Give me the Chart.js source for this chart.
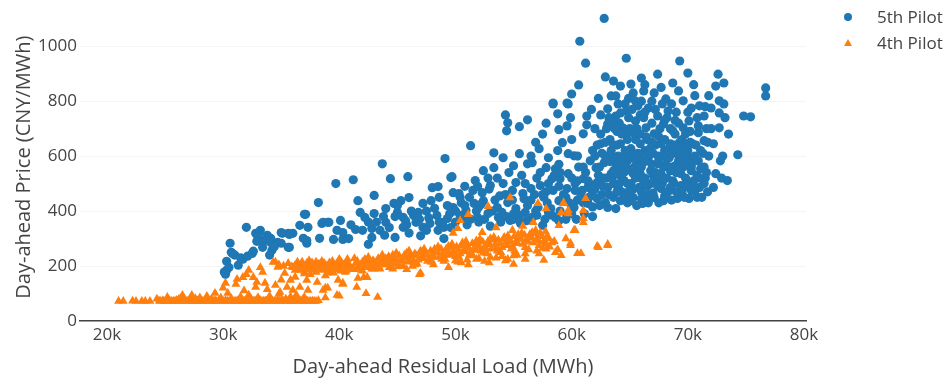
<!DOCTYPE html>
<html>
<head>
<meta charset="utf-8">
<script src="https://cdn.jsdelivr.net/npm/chart.js@4.4.1/dist/chart.umd.min.js"></script>
<style>
  html, body { margin: 0; padding: 0; background: #fff; }
  #wrap { position: relative; width: 947px; height: 382px; }
  .legend-item { position: absolute; left: 843px; height: 20px; line-height: 20px;
    font-family: "Open Sans", sans-serif; font-size: 17px; color: #444; white-space: nowrap; }
  .legend-item span.txt { position: absolute; left: 34px; top: 0; }
  .dot { position: absolute; left: 1px; top: 6px; width: 8px; height: 8px; border-radius: 50%; background: #1f77b4; }
  .tri { position: absolute; left: 1px; top: 6px; width: 0; height: 0;
    border-left: 4px solid transparent; border-right: 4px solid transparent; border-bottom: 7px solid #ff7f0e; }
</style>
</head>
<body>
<div id="wrap">
  <canvas id="chart" width="947" height="382"></canvas>
  <div class="legend-item" style="top:7px"><div class="dot"></div><span class="txt">5th Pilot</span></div>
  <div class="legend-item" style="top:33px"><div class="tri"></div><span class="txt">4th Pilot</span></div>
</div>
<script>
// tick values (x in thousand MWh)
const xTicks = [20, 30, 40, 50, 60, 70, 80];
const yTicks = [0, 200, 400, 600, 800, 1000];

// 5th Pilot: [residual load (k MWh), price]
const pilot5Points = [
  [30.1,178],[30.3,185],[30.6,283],[30.7,250],[30.3,217],[30.2,170],[30.5,195],[31.3,203],[31.7,225],[32.1,236],
  [32.0,341],[32.6,254],[32.8,319],[33.2,330],[33.4,293],[33.8,312],[33.4,268],[34.2,257],[34.1,286],[34.7,286],
  [35.1,319],[35.6,319],[36.0,319],[35.7,268],[36.6,348],[37.1,388],[37.3,341],[36.9,301],[37.2,283],[38.2,431],
  [38.5,355],[39.0,359],[38.3,301],[30.8,246],[31.0,240],[32.5,246],[33.6,293],[34.1,301],[35.0,322],[35.7,315],
  [35.6,268],[33.1,322],[35.0,283],[37.2,293],[39.5,297],[40.3,297],[40.3,322],[41.4,333],[33.9,300],[34.4,270],
  [33.0,305],[32.9,290],[34.0,240],[31.5,230],
  [43.7,572],[39.7,500],[41.2,514],[44.4,518],[45.9,525],[41.6,438],[43.0,457],[37.0,388],[38.6,359],[39.1,359],
  [40.1,366],[42.2,377],[43.0,391],[44.0,409],[44.7,428],[45.3,438],[46.0,449],[47.2,428],[47.9,438],[48.0,485],
  [48.5,489],[46.4,384],[45.5,377],[48.4,384],[48.9,359],[47.2,341],[46.6,359],[44.0,359],[43.5,330],[42.8,337],
  [42.8,304],[42.5,279],[43.9,312],[44.8,304],[45.5,341],[49.1,591],[49.7,525],[46.2,400],[45.0,395],[47.5,400],
  [48.2,410],[49.3,420],[46.9,370],[45.8,350],[47.8,355],[44.3,340],[41.0,350],[42.0,330],[39.8,330],[40.8,300],
  [46.0,320],[47.0,310],[48.5,330],[49.0,300],[49.6,340],[42.5,360],[43.8,380],[41.8,395],[45.0,420],
  [44.8,380],[46.8,395],[47.7,375],[48.6,360],[43.2,360],[45.7,365],[47.5,330],
  [54.3,750],[54.5,721],[54.4,692],[55.5,707],[56.2,732],[58.8,754],[59.6,710],[58.9,696],[58.4,790],[59.7,790],
  [60.7,1018],[61.2,938],[60.6,859],[60.0,826],[59.6,793],[58.4,793],[61.3,746],[61.3,714],[61.0,681],[51.3,638],
  [49.6,522],[53.3,612],[54.1,594],[55.5,609],[57.2,627],[58.0,594],[58.8,620],[59.7,609],[60.2,601],[59.2,649],
  [52.4,547],[53.3,558],[54.6,540],[54.1,500],[55.2,504],[56.2,572],[56.6,576],[57.3,540],[57.8,558],[58.3,518],
  [58.6,554],[59.0,518],[59.7,536],[60.3,500],[61.0,518],[61.6,583],[62.1,558],[62.8,576],[62.5,645],[51.7,511],
  [51.5,475],[52.3,467],[50.3,464],[49.8,467],[53.0,493],[54.9,475],[55.8,464],[56.5,482],[57.3,493],[58.4,475],
  [59.6,482],[60.9,475],[61.4,486],[62.2,504],[49.8,413],[50.9,402],[51.6,428],[52.4,438],[53.6,413],[54.5,431],
  [55.2,409],[56.2,420],[57.1,413],[58.2,409],[58.9,438],[60.2,413],[61.4,428],[62.2,446],[49.3,373],[50.4,384],
  [51.9,377],[52.8,391],[53.7,377],[54.7,366],[55.6,355],[56.6,377],[57.5,348],[58.6,377],[49.0,341],[50.0,360],
  [51.0,350],[52.0,360],[53.0,345],[54.0,395],[55.0,390],[56.0,395],[57.0,385],[58.0,395],[59.0,400],[60.0,390],
  [59.5,370],[60.5,440],[61.8,415],[50.5,430],[51.2,450],[53.8,455],[55.9,445],[57.6,450],[59.3,460],[60.8,455],
  [52.8,520],[55.7,530],[58.9,570],[60.6,560],[61.2,540],[56.9,650],[57.5,680],[60.0,660],[61.8,620],[62.0,700],
  [59.9,740],[57.8,720],[56.5,600],[55.0,565],[53.6,520],[50.8,490],[52.0,415],[48.6,450],
  [49.5,390],[50.0,400],[50.6,375],[51.3,370],[51.8,400],[52.5,370],[53.2,400],[53.9,360],[54.4,380],[55.0,370],
  [55.5,385],[56.1,365],[56.9,400],[57.7,370],[58.3,385],[58.9,365],[59.6,385],[60.4,370],[61.1,390],[61.8,380],
  [50.8,420],[52.2,425],[53.4,440],[54.9,440],[56.5,440],[57.9,430],[59.8,430],[61.0,430],[60.3,475],[58.9,490],
  [57.8,470],[56.8,460],[54.3,460],[52.9,480],[51.9,490],[50.4,450],
  [56.0,500],[57.0,520],[58.0,500],[59.0,540],[60.0,520],[61.5,500],[57.5,460],[59.5,450],[60.5,510],[58.5,530],
  [62.8,1101],[64.7,956],[69.3,946],[70.0,902],[62.9,888],[66.0,884],[67.4,898],[68.7,866],[72.6,898],[73.1,866],
  [72.4,855],[76.7,848],[76.7,819],[74.8,746],[75.4,743],[74.3,605],[73.4,511],[72.7,801],[72.0,775],[72.7,757],
  [72.7,703],[72.2,645],[72.8,583],[72.4,536],[72.2,486],[63.6,873],[64.2,855],[65.1,862],[63.4,819],[65.3,830],
  [66.2,837],[67.1,830],[68.1,808],[69.2,837],[69.6,801],[70.3,775],[71.0,783],[71.4,746],[68.3,764],[67.4,746],
  [66.6,775],[65.7,783],[64.7,764],[63.8,746],[63.1,717],[64.4,703],[65.3,685],[66.4,703],[67.1,681],[67.9,717],
  [68.7,692],[69.6,703],[70.1,728],[70.9,685],[71.4,656],[70.4,645],[69.4,630],[68.5,645],[67.7,645],[66.8,630],
  [65.9,645],[65.1,627],[64.2,645],[63.4,620],[62.9,583],[63.8,572],[64.8,583],[65.7,572],[66.6,594],[67.4,572],
  [68.4,594],[69.2,583],[70.1,594],[70.9,583],[71.1,554],[70.3,547],[69.4,536],[68.5,547],[67.7,536],[66.8,547],
  [65.9,536],[65.1,547],[64.2,529],[63.4,536],[63.1,486],[64.0,486],[64.8,500],[65.8,486],[66.8,500],[67.7,482],
  [68.5,486],[69.4,493],[70.3,475],[71.0,486],[70.1,446],[67.9,438],[66.1,428],[63.8,409],[62.9,431],[65.1,438],
  [67.1,449],[69.1,446],[63.5,721],[63.1,772],[64.2,757],[64.7,681],[65.5,728],[65.3,692],[63.6,547],[64.5,511],
  [65.3,536],[64.2,438],[65.3,449],[63.1,413],[63.8,819],[64.6,790],[61.7,770],[62.3,810],
  [64.0,600],[65.0,610],[66.0,560],[67.0,610],[68.0,620],[69.0,610],[70.0,620],[66.5,660],[67.5,670],[68.5,700],
  [69.8,680],[65.5,660],[64.6,620],[66.3,520],[67.3,510],[68.2,520],[69.0,470],[66.0,470],[65.0,460],[64.3,470],
  [67.0,465],[68.0,455],[70.5,510],[71.5,520],[71.8,600],[71.6,700],[70.8,740],[69.0,760],[67.8,790],[66.9,800],
  [65.9,750],[64.0,790],[63.3,660],[62.6,610],[62.3,530],[61.8,470],[62.6,460],[63.9,690],[68.9,730],[70.6,820],
  [71.8,820],[66.3,860],[67.7,850],[64.9,810],[62.5,750],[70.5,860],[72.0,700],[71.3,610],[71.7,470],[70.8,450],
  [69.7,450],[68.6,440],[66.6,430],[65.6,420],[64.8,430],[63.2,460],[69.8,520],[70.0,570],[68.9,565],[67.9,560],
  [66.3,580],[65.4,590],[64.3,560],[63.0,520],[62.0,480],[61.5,450],
  [73.2,740],[73.5,680],[73.0,600],[72.9,520],[73.1,790],
  [62.4,560],[62.7,520],[63.0,600],[63.3,580],[63.6,500],[63.9,640],[64.2,580],[64.5,540],[64.8,660],[65.1,500],
  [65.4,560],[65.7,610],[66.0,520],[66.3,620],[66.6,460],[66.9,570],[67.2,540],[67.5,600],[67.8,500],[68.1,570],
  [68.4,630],[68.7,510],[69.0,540],[69.3,600],[69.6,560],[69.9,500],[70.2,650],[70.5,580],[70.8,530],[71.1,620],
  [71.4,560],[71.7,650],[62.5,680],[63.2,740],[63.7,700],[64.1,720],[64.9,740],[65.6,700],[66.2,740],[66.9,720],
  [67.6,700],[68.2,740],[68.9,680],[69.5,660],[70.2,690],[70.9,710],[71.5,780],[66.0,800],[67.2,770],[68.6,790],
  [65.2,770],[66.4,670],[67.2,640],[68.0,660],[69.3,650],[64.5,600],[63.5,600],[62.2,640],[65.9,600],[66.7,610],
  [67.5,590],[68.7,610],[69.8,610],[70.6,600],[64.1,500],[65.3,480],[66.5,490],[67.4,490],[68.8,500],[69.9,490],
  [63.6,450],[64.6,450],[66.0,445],[67.5,430],[68.3,470],[69.5,470],[70.4,490],[71.4,500],
  [63.5,520],[64.0,550],[64.7,560],[65.5,520],[66.2,500],[67.0,530],[67.8,520],[68.6,560],[69.5,590],[70.3,560],
  [71.0,520],[71.6,540],[70.7,640],[69.8,640],[68.9,640],[67.9,600],[66.9,650],[65.9,680],[65.0,700],[64.3,680],
  [63.6,640],[62.9,650],[66.3,760],[68.0,730],[69.2,720],[70.0,760],[65.5,800],[63.0,700],[62.0,600],[62.7,490],
  [61.4,510],[61.0,560],[60.5,600],[69.2,560],[66.5,450],[71.2,450],[70.6,470],[64.9,470],[63.9,470],[62.4,420]
];

// 4th Pilot: [residual load (k MWh), price]
const pilot4Points = [
  [21.0,72],[21.4,72],[22.2,73],[23.3,72],[23.7,72],[24.5,73],[24.8,75],[25.1,72],[25.4,74],[25.7,72],
  [26.0,76],[26.3,72],[26.6,74],[26.9,73],[27.2,76],[27.5,72],[27.8,74],[28.1,72],[28.4,75],[28.7,73],
  [29.0,72],[29.3,76],[29.6,73],[29.9,72],[30.2,75],[30.5,72],[30.8,74],[31.1,73],[31.4,72],[31.7,75],
  [32.0,72],[32.3,74],[32.6,73],[32.9,72],[33.2,75],[33.5,73],[33.8,72],[34.1,74],[34.4,72],[34.7,75],
  [35.0,73],[35.3,72],[35.6,74],[35.9,72],[36.2,75],[36.5,73],[36.8,72],[37.1,74],[37.4,72],[37.7,73],
  [38.0,72],[38.2,75],
  [24.6,72],[24.9,72],[25.25,73],[25.55,72],[25.85,73],[26.15,72],[26.45,73],[26.75,72],[27.05,72],[27.35,73],
  [27.65,72],[27.95,73],[28.25,72],[28.55,72],[28.85,74],[29.15,72],[29.45,72],[29.75,74],[30.05,72],[30.35,73],
  [30.65,72],[30.95,72],[31.25,74],[31.55,72],[31.85,73],[32.15,72],[32.45,72],[32.75,74],[33.05,72],[33.35,72],
  [33.65,74],[33.95,72],[34.25,73],[34.55,72],[34.85,72],[35.15,74],[35.45,72],[35.75,73],[36.05,72],[36.35,72],
  [36.65,74],[36.95,72],[37.25,73],[37.55,72],[37.85,72],[23.0,72],[22.5,72],
  [26.2,80],[27.6,82],[29.0,80],[30.7,82],[32.4,80],[33.9,82],[35.4,80],[36.9,82],
  [24.3,80],[25.2,87],[26.5,94],[27.3,94],[28.0,85],[28.6,90],[29.3,101],[29.8,85],[30.4,101],[31.5,88],
  [32.2,95],[33.0,86],[34.0,90],[34.8,98],[35.8,88],[36.3,95],[37.0,86],[39.8,94],[38.8,85],
  [30.2,138],[31.1,134],[31.2,152],[31.7,159],[32.0,170],[32.2,185],[32.6,159],[32.9,141],[32.8,123],[33.6,138],
  [33.4,178],[34.3,214],[34.7,196],[35.3,174],[35.8,149],[35.5,123],[36.0,112],[36.6,123],[37.2,149],[37.3,112],
  [38.1,141],[38.6,112],[39.9,149],[36.6,185],[37.7,203],[38.2,203],[30.0,120],[31.8,110],[33.8,115],[34.5,130],
  [35.0,150],[36.2,160],[37.5,170],[38.8,165],[39.5,175],[40.3,134],[41.5,123],[40.0,91],[41.6,156],[42.1,159],
  [42.3,100],[43.3,87],[39.0,120],[34.9,105],[33.2,195],[35.9,198],[38.8,120],[40.3,138],[42.4,159],[46.9,170],
  [36.0,195],[36.3,205],[36.6,190],[36.9,200],[37.2,210],[37.5,195],[37.8,205],[38.1,190],[38.4,200],[38.7,210],
  [39.0,195],[39.3,205],[39.6,188],[39.9,200],[40.2,212],[40.5,196],[40.8,205],[41.1,190],[41.4,210],[41.7,200],
  [42.0,215],[42.3,195],[42.6,208],[42.9,220],[43.2,200],[43.5,215],[43.8,225],[44.1,205],[44.4,218],[44.7,230],
  [45.0,210],[45.3,225],[45.6,240],[45.9,215],[46.2,230],[46.5,245],[46.8,222],[47.1,235],[47.4,250],[47.7,228],
  [48.0,240],[48.3,255],[48.6,232],[48.9,248],[49.2,262],[49.5,240],[49.8,255],[50.1,270],[50.4,245],[50.7,260],
  [51.0,275],[51.3,250],[51.6,265],[51.9,280],[52.2,255],[52.5,270],[52.8,290],[53.1,262],[53.4,278],[53.7,295],
  [54.0,268],[54.3,285],[54.6,300],[54.9,272],[55.2,290],[55.5,305],[55.8,280],[56.1,295],[56.4,315],[56.7,285],
  [57.0,300],[57.3,320],[57.6,290],[57.9,310],
  [36.15,200],[36.45,192],[36.75,208],[37.05,198],[37.35,188],[37.65,212],[37.95,198],[38.25,208],[38.55,192],[38.85,202],
  [39.15,212],[39.45,196],[39.75,208],[40.05,190],[40.35,204],[40.65,215],[40.95,198],[41.25,188],[41.55,218],[41.85,205],
  [42.15,195],[42.45,220],[42.75,200],[43.05,212],[43.35,228],[43.65,205],[43.95,215],[44.25,235],[44.55,210],[44.85,222],
  [45.15,238],[45.45,218],[45.75,230],[46.05,242],[46.35,222],[46.65,238],[46.95,250],[47.25,228],[47.55,242],[47.85,255],
  [48.15,232],[48.45,248],[48.75,262],[49.05,240],[49.35,252],[49.65,268],[49.95,245],[50.25,258],[50.55,275],[50.85,252],
  [51.15,265],[51.45,282],[51.75,258],[52.05,270],[52.35,288],[52.65,262],[52.95,278],[53.25,295],[53.55,268],[53.85,282],
  [54.15,300],[54.45,275],[54.75,290],[55.05,308],[55.35,282],[55.65,298],[55.95,312],[56.25,288],[56.55,302],[56.85,318],
  [57.15,292],[57.45,308],[57.75,325],
  [36.2,185],[36.8,215],[37.4,220],[38.0,215],[38.6,185],[39.4,218],[40.1,182],[40.7,225],[41.6,192],[42.2,225],
  [42.8,190],[43.4,198],[44.0,228],[44.6,240],[45.2,200],[45.8,248],[46.4,212],[47.0,255],[47.6,218],[48.2,262],
  [48.8,225],[49.4,272],[50.0,235],[50.6,285],[51.2,240],[51.8,292],[52.4,248],[53.0,300],[53.6,255],[54.2,305],
  [54.8,262],[55.4,315],[56.0,268],[56.6,322],[57.2,275],[57.8,282],[58.3,285],
  [36.4,215],[37.0,180],[37.9,185],[38.5,218],[39.2,180],[40.0,225],[40.6,182],[41.3,228],[41.9,185],[42.5,232],
  [43.0,190],[43.7,240],[44.3,195],[44.9,248],[45.5,200],[46.0,255],[46.7,208],[47.3,262],[47.9,215],[48.5,270],
  [49.1,225],[49.7,280],[50.3,232],[50.9,290],[51.5,238],[52.1,298],[52.7,245],[53.3,305],[53.9,250],[54.5,310],
  [55.1,255],[55.7,320],[56.3,260],[56.9,330],[57.5,265],[58.1,270],[35.6,210],[35.2,200],[34.8,205],[34.5,215],
  [44.6,190],[46.3,200],[48.1,205],[50.2,215],[51.8,225],[53.5,230],[55.3,240],[57.2,245],[58.6,250],[56.0,225],
  [54.3,220],[52.9,212],[47.0,174],[49.4,195],[51.1,205],[45.8,188],
  [48.0,215],[49.0,218],[50.0,220],[51.0,222],[52.0,228],[53.0,232],[54.0,235],[55.0,238],[56.0,245],[46.5,205],
  [45.0,198],[43.5,190],[42.0,182],[40.5,178],[39.0,175],[38.0,178],[37.0,172],[50.5,212],[52.5,218],[54.5,225],
  [57.0,255],[57.8,262],
  [59.9,283],[62.2,272],[63.1,279],[60.8,246],[59.1,239],[57.6,221],[55.0,207],[62.3,268],[63.1,275],[59.9,275],
  [60.5,246],[58.8,260],[58.5,290],[59.5,300],[60.2,330],[58.0,300],
  [52.8,417],[51.1,388],[50.4,366],[50.2,337],[54.7,449],[57.1,428],[57.8,409],[59.3,428],[59.7,391],[61.0,402],
  [61.0,359],[60.3,330],[58.9,348],[56.7,359],[54.9,330],[52.3,322],[61.2,446],[59.1,395],[59.3,431],[59.7,402],
  [61.0,373],[53.5,340],[55.8,345],[49.8,320]
];

const toXY = pts => pts.map(p => ({ x: p[0], y: p[1] }));

const tickFont = { family: 'Open Sans', size: 17 };
const titleFont = { family: 'Open Sans', size: 20 };

const ctx = document.getElementById('chart').getContext('2d');
const chart = new Chart(ctx, {
  type: 'scatter',
  data: {
    datasets: [{
      label: '5th Pilot',
      data: toXY(pilot5Points),
      backgroundColor: '#1f77b4',
      borderWidth: 0,
      pointRadius: 4.6,
      pointStyle: 'circle',
      order: 1
    }, {
      label: '4th Pilot',
      data: toXY(pilot4Points),
      backgroundColor: '#ff7f0e',
      borderWidth: 0,
      pointRadius: 5.2,
      pointStyle: 'triangle',
      order: 0
    }]
  },
  options: {
    responsive: false,
    animation: false,
    layout: { padding: { top: 12, right: 141, left: 0, bottom: 0 } },
    plugins: {
      legend: { display: false },
      tooltip: { enabled: false }
    },
    scales: {
      x: {
        type: 'linear',
        min: 17.68,
        max: 80.17,
        afterBuildTicks: s => { s.ticks = xTicks.map(v => ({ value: v })); },
        afterFit: s => { s.height = 61; },
        ticks: {
          callback: v => v + 'k',
          font: tickFont,
          color: '#444',
          padding: 4,
          maxRotation: 0
        },
        grid: { display: false, drawTicks: false },
        border: { display: true, color: '#444', width: 1.5 },
        title: {
          display: true,
          text: 'Day-ahead Residual Load (MWh)',
          font: titleFont,
          color: '#444',
          padding: { top: 0, bottom: 3 }
        }
      },
      y: {
        min: 0,
        max: 1120,
        afterBuildTicks: s => { s.ticks = yTicks.map(v => ({ value: v })); },
        afterFit: s => { s.width = 80; },
        ticks: {
          callback: v => String(v),
          font: tickFont,
          color: '#444',
          padding: 3
        },
        grid: { color: '#f5f5f5', drawTicks: false },
        border: { display: false },
        title: {
          display: true,
          text: 'Day-ahead Price (CNY/MWh)',
          font: titleFont,
          color: '#444',
          padding: { top: 12, bottom: 0 }
        }
      }
    }
  }
});
</script>
</body>
</html>
